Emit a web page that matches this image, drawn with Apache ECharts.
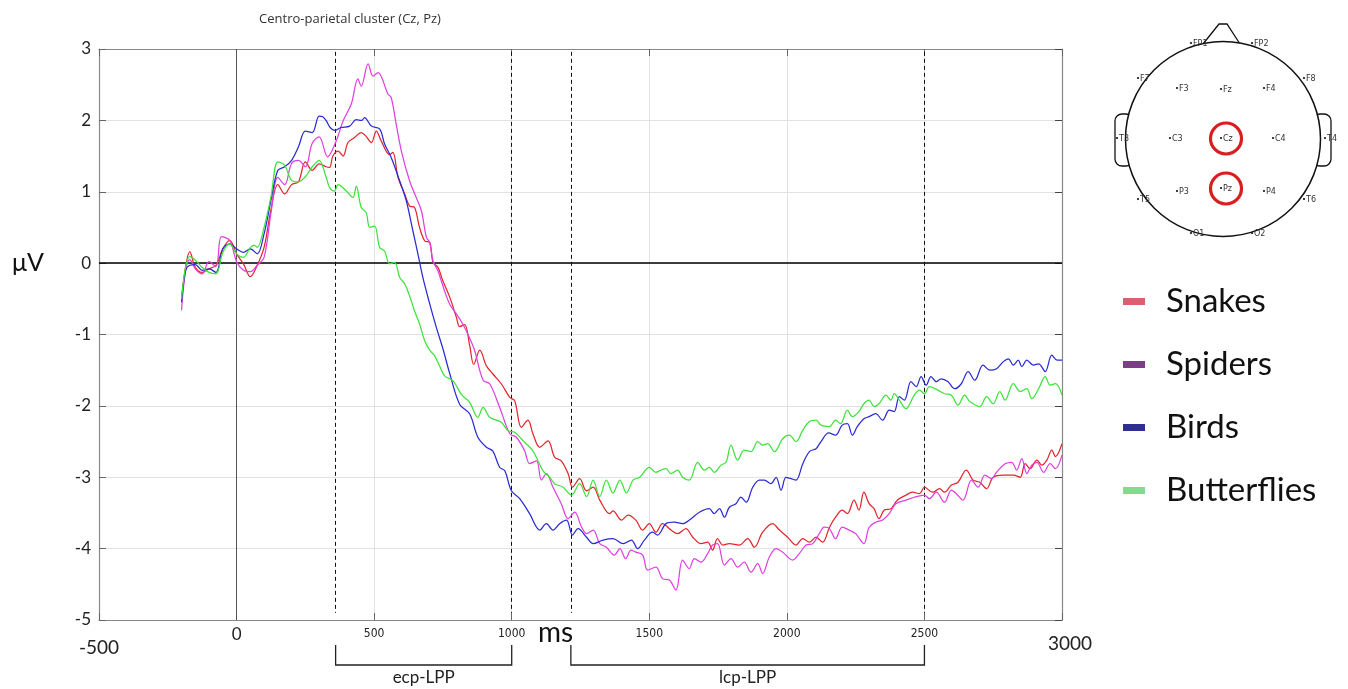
<!DOCTYPE html>
<html><head><meta charset="utf-8">
<script src="https://cdn.jsdelivr.net/npm/echarts@6/dist/echarts.min.js"></script>
<style>html,body{margin:0;padding:0;background:#fff}#c{width:1348px;height:689px}</style>
</head><body><div id="c"></div>
<script>
// ---------- DATA ----------
const titleText = 'Centro-parietal cluster (Cz, Pz)';
const seriesNames = ['Snakes', 'Spiders', 'Birds', 'Butterflies'];
const xTickValues = [-500, 0, 500, 1000, 1500, 2000, 2500, 3000];
const yTickValues = [-5, -4, -3, -2, -1, 0, 1, 2, 3];
const windowEdges = [360, 1000, 1215, 2500];
const windowLabels = ['ecp-LPP', 'lcp-LPP'];
const xUnit = 'ms';
const yUnit = 'μV';
const electrodeNames = ['FP1','FP2','F7','F3','Fz','F4','F8','T3','C3','Cz','C4','T4','T5','P3','Pz','P4','T6','O1','O2'];
const clusterElectrodes = ['Cz', 'Pz'];

// [time ms, amplitude µV]
const snakes = [[-200,-0.5],[-185,-0.05],[-170,0.16],[-150,-0.06],[-125,-0.13],[-100,-0.08],[-75,-0.03],[-50,0.2],[-25,0.32],[0,0.13],[25,-0.01],[50,-0.19],[75,-0.03],[100,0.22],[125,0.75],[150,1.1],[175,0.97],[200,1.1],[225,1.14],[250,1.42],[275,1.3],[300,1.39],[325,1.35],[338,1.34],[350,1.5],[369,1.57],[387,1.5],[405,1.69],[429,1.76],[453,1.83],[470,1.78],[490,1.69],[508,1.85],[526,1.71],[556,1.52],[568,1.55],[587,1.2],[611,0.97],[629,0.8],[647,0.78],[665,0.5],[684,0.31],[702,0.29],[714,0.01],[732,-0.06],[750,-0.25],[775,-0.48],[799,-0.76],[811,-0.89],[829,-0.86],[847,-1.15],[862,-1.42],[884,-1.22],[908,-1.44],[931,-1.55],[962,-1.69],[993,-1.88],[1011,-1.93],[1035,-2.3],[1059,-2.2],[1077,-2.39],[1102,-2.58],[1132,-2.49],[1156,-2.72],[1180,-2.77],[1205,-2.95],[1221,-3.14],[1247,-3.02],[1272,-3.19],[1296,-3.14],[1320,-3.32],[1356,-3.51],[1368,-3.47],[1399,-3.6],[1423,-3.53],[1451,-3.6],[1476,-3.74],[1500,-3.65],[1524,-3.77],[1548,-3.65],[1579,-3.74],[1603,-3.79],[1633,-3.72],[1658,-3.84],[1688,-3.93],[1712,-3.91],[1730,-4.02],[1748,-3.86],[1767,-3.95],[1791,-3.93],[1827,-3.95],[1858,-3.86],[1882,-3.98],[1912,-3.77],[1948,-3.65],[1973,-3.74],[2003,-3.84],[2033,-3.95],[2058,-3.86],[2082,-3.91],[2106,-3.84],[2130,-3.91],[2155,-3.7],[2177,-3.56],[2201,-3.46],[2220,-3.51],[2244,-3.32],[2262,-3.46],[2280,-3.21],[2299,-3.37],[2317,-3.44],[2335,-3.58],[2354,-3.46],[2378,-3.44],[2402,-3.32],[2433,-3.25],[2457,-3.21],[2482,-3.23],[2500,-3.14],[2530,-3.21],[2555,-3.16],[2573,-3.21],[2598,-3.11],[2622,-3.07],[2652,-2.9],[2677,-3.04],[2701,-3.07],[2726,-3.16],[2750,-3.0],[2787,-2.97],[2823,-2.97],[2848,-3.0],[2866,-2.81],[2884,-2.88],[2909,-2.76],[2927,-2.83],[2945,-2.76],[2963,-2.62],[2976,-2.71],[3000,-2.53]];

const spiders = [[-200,-0.66],[-185,-0.1],[-170,0.05],[-150,-0.08],[-125,-0.15],[-100,0.02],[-75,-0.05],[-55,0.37],[-25,0.32],[0,0.02],[25,-0.1],[50,-0.12],[75,-0.03],[100,0.08],[125,0.7],[150,1.2],[175,1.1],[200,1.4],[225,1.44],[250,1.35],[275,1.68],[300,1.77],[331,1.49],[362,1.71],[387,1.99],[417,2.23],[441,2.58],[453,2.48],[478,2.79],[496,2.62],[514,2.67],[550,2.37],[562,2.32],[580,1.95],[599,1.57],[629,1.15],[653,0.92],[672,0.73],[690,0.36],[702,0.29],[714,0.03],[732,-0.11],[756,-0.39],[775,-0.58],[799,-0.71],[823,-0.86],[847,-1.05],[865,-1.22],[896,-1.64],[920,-1.69],[956,-2.02],[993,-2.39],[1017,-2.44],[1047,-2.63],[1065,-2.81],[1090,-2.77],[1108,-3.04],[1126,-2.95],[1150,-3.14],[1180,-3.37],[1205,-3.58],[1229,-3.49],[1253,-3.69],[1272,-3.79],[1296,-3.74],[1320,-3.93],[1344,-3.98],[1373,-4.09],[1393,-4.0],[1414,-4.14],[1434,-4.02],[1451,-4.05],[1476,-4.09],[1494,-4.3],[1524,-4.26],[1548,-4.42],[1573,-4.44],[1597,-4.58],[1621,-4.16],[1645,-4.28],[1664,-4.14],[1688,-4.19],[1712,-4.07],[1730,-3.95],[1748,-3.93],[1773,-4.23],[1797,-4.14],[1821,-4.26],[1845,-4.19],[1870,-4.33],[1894,-4.21],[1912,-4.35],[1936,-4.12],[1961,-4.0],[1985,-4.05],[2021,-4.16],[2045,-4.07],[2070,-3.95],[2094,-3.93],[2118,-3.79],[2136,-3.7],[2155,-3.72],[2177,-3.86],[2201,-3.7],[2226,-3.74],[2250,-3.79],[2280,-3.93],[2299,-3.7],[2323,-3.63],[2348,-3.6],[2372,-3.51],[2396,-3.37],[2433,-3.32],[2463,-3.28],[2500,-3.25],[2518,-3.3],[2543,-3.21],[2573,-3.35],[2598,-3.18],[2616,-3.23],[2640,-3.32],[2671,-3.04],[2695,-3.14],[2720,-2.97],[2744,-3.02],[2762,-2.93],[2793,-2.81],[2817,-2.79],[2835,-2.9],[2854,-2.74],[2872,-2.95],[2890,-2.83],[2909,-2.79],[2933,-2.93],[2957,-2.81],[2976,-2.88],[3000,-2.69]];

const birds = [[-200,-0.55],[-185,-0.1],[-170,-0.03],[-150,-0.02],[-125,-0.1],[-100,-0.08],[-75,-0.13],[-50,0.2],[-25,0.27],[0,0.2],[25,0.15],[50,0.2],[75,0.13],[100,0.41],[125,0.88],[150,1.3],[175,1.35],[200,1.44],[225,1.63],[250,1.85],[275,1.83],[300,2.06],[313,2.05],[325,2.0],[340,1.9],[356,1.86],[380,1.9],[411,1.92],[435,2.01],[455,2.0],[465,2.04],[490,1.92],[520,1.88],[538,1.67],[562,1.48],[593,1.15],[617,0.87],[641,0.45],[659,0.13],[677,-0.2],[702,-0.57],[726,-0.9],[750,-1.2],[775,-1.55],[811,-1.98],[847,-2.11],[877,-2.44],[908,-2.58],[931,-2.63],[956,-2.86],[975,-2.91],[999,-3.19],[1029,-3.3],[1065,-3.51],[1102,-3.74],[1126,-3.65],[1150,-3.74],[1174,-3.65],[1199,-3.6],[1221,-3.81],[1241,-3.72],[1272,-3.84],[1296,-3.93],[1332,-3.88],[1368,-3.86],[1405,-3.93],[1435,-3.88],[1458,-4.0],[1482,-3.88],[1512,-3.77],[1530,-3.81],[1561,-3.65],[1591,-3.63],[1621,-3.65],[1652,-3.58],[1682,-3.49],[1718,-3.44],[1736,-3.51],[1755,-3.44],[1773,-3.56],[1791,-3.42],[1815,-3.37],[1833,-3.28],[1852,-3.35],[1876,-3.14],[1900,-3.04],[1918,-3.04],[1942,-3.09],[1961,-3.0],[1979,-3.18],[1997,-3.0],[2015,-3.02],[2033,-3.04],[2058,-2.81],[2082,-2.64],[2106,-2.6],[2124,-2.5],[2152,-2.38],[2177,-2.41],[2201,-2.27],[2220,-2.25],[2238,-2.41],[2256,-2.29],[2280,-2.18],[2299,-2.15],[2323,-2.11],[2348,-2.2],[2372,-2.06],[2390,-2.08],[2409,-1.87],[2427,-1.92],[2451,-1.66],[2470,-1.73],[2488,-1.59],[2506,-1.71],[2524,-1.59],[2543,-1.66],[2561,-1.62],[2585,-1.66],[2610,-1.76],[2634,-1.69],[2659,-1.52],[2683,-1.64],[2713,-1.43],[2738,-1.5],[2762,-1.48],[2787,-1.38],[2805,-1.34],[2823,-1.43],[2841,-1.36],[2854,-1.45],[2872,-1.36],[2896,-1.43],[2915,-1.41],[2939,-1.52],[2963,-1.29],[2982,-1.36],[3000,-1.36]];

const butterflies = [[-200,-0.5],[-185,-0.05],[-170,0.09],[-150,0.04],[-125,-0.06],[-100,-0.13],[-75,-0.15],[-50,0.15],[-25,0.27],[0,0.13],[25,0.08],[50,0.22],[65,0.25],[75,0.22],[100,0.5],[125,0.93],[150,1.42],[175,1.37],[200,1.16],[225,1.14],[250,1.21],[275,1.35],[300,1.44],[325,1.21],[338,1.06],[356,1.01],[369,1.1],[399,1.01],[423,0.92],[435,1.08],[453,0.78],[471,0.71],[484,0.5],[502,0.52],[520,0.22],[538,0.17],[556,-0.01],[574,0.01],[593,-0.2],[611,-0.29],[629,-0.46],[647,-0.67],[665,-0.85],[684,-1.09],[702,-1.22],[720,-1.3],[738,-1.44],[756,-1.58],[787,-1.65],[817,-1.84],[847,-1.95],[877,-2.16],[896,-2.02],[920,-2.16],[962,-2.23],[987,-2.35],[1011,-2.37],[1047,-2.51],[1077,-2.63],[1114,-2.91],[1138,-3.0],[1156,-3.09],[1187,-3.14],[1217,-3.25],[1247,-3.09],[1272,-3.27],[1296,-3.04],[1320,-3.27],[1344,-3.04],[1368,-3.22],[1393,-3.04],[1417,-3.22],[1441,-3.04],[1465,-3.0],[1500,-2.86],[1524,-2.93],[1542,-2.9],[1561,-2.88],[1579,-2.95],[1603,-2.9],[1621,-3.0],[1645,-3.04],[1676,-2.79],[1700,-2.9],[1718,-2.86],[1736,-2.93],[1761,-2.83],[1779,-2.79],[1797,-2.55],[1821,-2.76],[1845,-2.62],[1870,-2.64],[1894,-2.5],[1912,-2.55],[1930,-2.53],[1955,-2.64],[1985,-2.46],[2009,-2.41],[2033,-2.5],[2058,-2.34],[2082,-2.22],[2106,-2.2],[2124,-2.27],[2155,-2.29],[2177,-2.2],[2195,-2.25],[2220,-2.06],[2238,-2.15],[2262,-2.08],[2280,-1.97],[2299,-1.92],[2317,-2.01],[2335,-1.97],[2360,-1.85],[2378,-1.92],[2390,-1.83],[2409,-1.92],[2433,-2.04],[2463,-1.85],[2482,-1.78],[2500,-1.83],[2518,-1.73],[2549,-1.78],[2573,-1.83],[2598,-1.85],[2622,-1.99],[2646,-1.85],[2665,-1.94],[2701,-2.01],[2726,-1.87],[2750,-1.97],[2774,-1.8],[2793,-1.92],[2823,-1.69],[2848,-1.8],[2872,-1.76],[2890,-1.9],[2915,-1.76],[2939,-1.59],[2957,-1.71],[2976,-1.69],[3000,-1.85]];

// ---------- STYLE ----------
const lineColors = ['#e3262c', '#e040df', '#2b2bd3', '#3ce33c'];
const legendColors = ['#dc5f70', '#7b3f86', '#2f2f92', '#86d98f'];
const seriesData = [snakes, spiders, birds, butterflies];
const bigFont = 'Lato, "Open Sans", sans-serif';

const chart = echarts.init(document.getElementById('c'), null, { renderer: 'canvas' });

const xMin = xTickValues[0], xMax = xTickValues[xTickValues.length - 1];
const yMin = yTickValues[0], yMax = yTickValues[yTickValues.length - 1];

const series = seriesData.map((d, i) => ({
  name: seriesNames[i], type: 'line', data: d, showSymbol: false, smooth: 0.35,
  z: 5 + i, lineStyle: { color: lineColors[i], width: 1.25 }, itemStyle: { color: lineColors[i] }
}));
// reference lines drawn through the axes
series.push({
  name: 'refs', type: 'line', data: [], silent: true, z: 3,
  markLine: {
    symbol: 'none', silent: true, label: { show: false }, animation: false,
    data: [
      [{ coord: [xMin, 0], lineStyle: { color: '#000', width: 1.6, type: 'solid' } }, { coord: [xMax, 0] }],
      [{ coord: [0, yMax], lineStyle: { color: '#555', width: 1, type: 'solid' } }, { coord: [0, yMin] }]
    ].concat(windowEdges.map(t => [
      { coord: [t, yMax - 0.04], lineStyle: { color: '#111', width: 1, type: [4, 3] } },
      { coord: [t, yMin + 0.1] }
    ]))
  }
});

const option = {
  animation: false,
  backgroundColor: '#fff',
  title: { text: titleText, left: 345, top: 8, textAlign: 'center',
    textStyle: { fontFamily: '"Open Sans", sans-serif', fontSize: 13, fontWeight: 'normal', color: '#333' } },
  legend: {
    orient: 'vertical', left: 1118, top: 280, itemGap: 30, itemWidth: 22, itemHeight: 7, icon: 'rect',
    selectedMode: false,
    textStyle: { fontFamily: bigFont, fontSize: 33, color: '#111', lineHeight: 32, padding: [0, 0, 0, 16] },
    data: seriesNames.map((n, i) => ({ name: n, itemStyle: { color: legendColors[i] } }))
  },
  grid: { left: 99, right: 286, top: 49, bottom: 69, containLabel: false },
  xAxis: [{
    type: 'value', min: xMin, max: xMax, interval: 500, position: 'bottom',
    axisLine: { show: true, onZero: false, lineStyle: { color: '#888', width: 1.2 } },
    axisTick: { show: true, inside: true, length: 7, lineStyle: { color: '#666' } },
    splitLine: { show: true, lineStyle: { color: '#e2e2e2', width: 1 } },
    axisLabel: {
      margin: 6, color: '#222',
      formatter: v => v === xMin ? '{big|' + v + '}' : v === xMax ? '{bigR|' + v + '}' : (v === 0 ? '{zero|0}' : '{small|' + v + '}'),
      rich: {
        big: { fontFamily: bigFont, fontSize: 19, color: '#222', padding: [12, 0, 0, 0] },
        bigR: { fontFamily: bigFont, fontSize: 19, color: '#222', padding: [8, 0, 0, 16] },
        zero: { fontFamily: bigFont, fontSize: 17, color: '#222', padding: [0, 0, 0, 0] },
        small: { fontFamily: '"Liberation Sans Narrow", "DejaVu Sans Condensed", sans-serif', fontSize: 12, color: '#222', padding: [2, 0, 0, 0] }
      }
    }
  }, {
    type: 'value', min: xMin, max: xMax, interval: 500, position: 'top',
    axisLine: { show: true, onZero: false, lineStyle: { color: '#888', width: 1.2 } },
    axisTick: { show: true, inside: true, length: 7, lineStyle: { color: '#666' } },
    axisLabel: { show: false }, splitLine: { show: false }
  }],
  yAxis: [{
    type: 'value', min: yMin, max: yMax, interval: 1, position: 'left',
    axisLine: { show: true, onZero: false, lineStyle: { color: '#888', width: 1.2 } },
    axisTick: { show: true, inside: true, length: 7, lineStyle: { color: '#666' } },
    splitLine: { show: true, lineStyle: { color: '#e2e2e2', width: 1 } },
    axisLabel: { margin: 8, color: '#222', fontFamily: bigFont, fontSize: 17 }
  }, {
    type: 'value', min: yMin, max: yMax, interval: 1, position: 'right',
    axisLine: { show: true, onZero: false, lineStyle: { color: '#888', width: 1.2 } },
    axisTick: { show: true, inside: true, length: 7, lineStyle: { color: '#444' } },
    axisLabel: { show: false }, splitLine: { show: false }
  }],
  series: series
};
chart.setOption(option);

// ---------- decorations (brackets, units, head map) ----------
const px = t => chart.convertToPixel({ xAxisIndex: 0 }, t);
const g = [];
// units
g.push({ type: 'text', left: 538, top: 619, style: { text: xUnit, font: '28px ' + bigFont, fill: '#111' } });
g.push({ type: 'text', left: 12, top: 250, style: { text: yUnit, font: '25px ' + bigFont, fill: '#111' } });
// brackets
for (let k = 0; k < windowLabels.length; k++) {
  const x1 = px(windowEdges[2 * k]), x2 = px(windowEdges[2 * k + 1]);
  g.push({ type: 'polyline', shape: { points: [[x1, 645], [x1, 665], [x2, 665], [x2, 645]] },
    style: { stroke: '#222', lineWidth: 1.3, fill: null } });
  g.push({ type: 'text', x: (x1 + x2) / 2, y: 678,
    style: { text: windowLabels[k], font: '17px ' + bigFont, fill: '#222', align: 'center', verticalAlign: 'middle' } });
}
// head map layout
const headLayout = {
  cx: 1223, cy: 139, r: 97.5,
  pos: { FP1:[1191,43], FP2:[1252,43], F7:[1138,78], F3:[1177,88], Fz:[1221,89], F4:[1264,88], F8:[1304,78],
         T3:[1117,138], C3:[1170,138], Cz:[1221,138], C4:[1273,138], T4:[1325,138],
         T5:[1138,199], P3:[1177,191], Pz:[1221,188], P4:[1264,191], T6:[1304,199], O1:[1191,233], O2:[1252,233] }
};
const H = headLayout;
// ears
g.push({ type: 'rect', shape: { x: 1115, y: 114, width: 18, height: 52, r: 7 }, style: { fill: '#fff', stroke: '#111', lineWidth: 1.3 } });
g.push({ type: 'rect', shape: { x: 1313, y: 114, width: 18, height: 52, r: 7 }, style: { fill: '#fff', stroke: '#111', lineWidth: 1.3 } });
// nose
g.push({ type: 'polyline', shape: { points: [[1203, 44], [1219, 24], [1227, 24], [1240, 44]] }, style: { stroke: '#111', lineWidth: 1.3, fill: null } });
// head
g.push({ type: 'circle', shape: { cx: H.cx, cy: H.cy, r: H.r }, style: { fill: '#fff', stroke: '#111', lineWidth: 1.5 } });
electrodeNames.forEach(n => {
  const p = H.pos[n];
  g.push({ type: 'circle', shape: { cx: p[0], cy: p[1], r: 1.1 }, style: { fill: '#111' }, z: 20 });
  g.push({ type: 'text', x: p[0] + 2, y: p[1] + 0.5, z: 20,
    style: { text: n, font: '8px "DejaVu Sans", sans-serif', fill: '#333', verticalAlign: 'middle', align: 'left' } });
});
clusterElectrodes.forEach(n => {
  const p = H.pos[n];
  g.push({ type: 'circle', shape: { cx: p[0] + 5, cy: p[1] + 0.5, r: 15.5 }, style: { fill: null, stroke: '#d81e1e', lineWidth: 3.2 }, z: 21 });
});
chart.setOption({ graphic: g });
</script>
</body></html>
